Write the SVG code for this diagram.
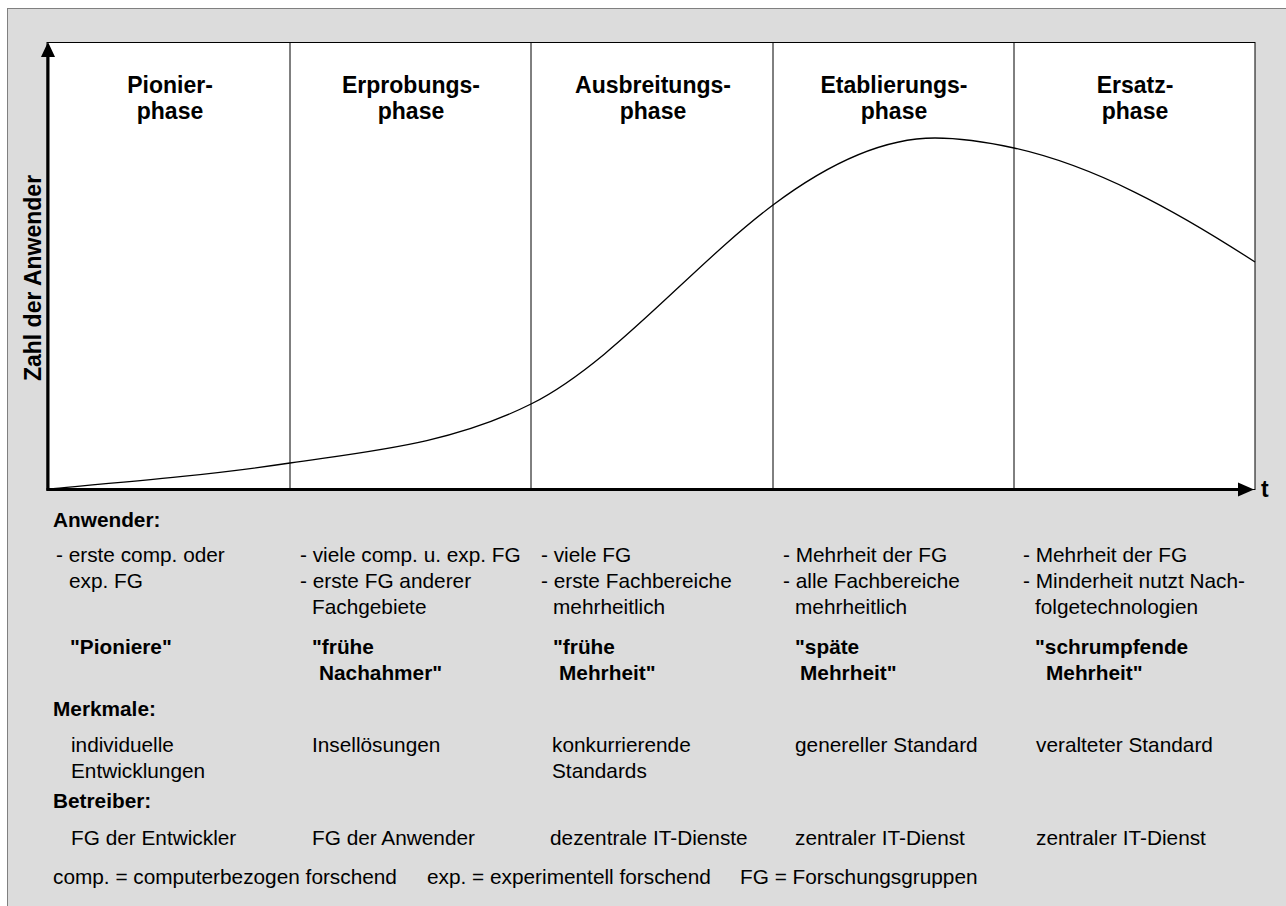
<svg xmlns="http://www.w3.org/2000/svg" width="1286" height="906" viewBox="0 0 1286 906">
<style>
text{font-family:"Liberation Sans",Arial,sans-serif;fill:#000}
.ph{font-size:23px;font-weight:bold;text-anchor:middle}
.b{font-size:20.8px}
.bb{font-size:20.8px;font-weight:bold}
.div{stroke:#000;stroke-width:1;fill:none}
.ax{stroke:#000;stroke-width:3;fill:none}
</style>
<rect id="background" x="7.5" y="8.5" width="1290" height="910" fill="#dcdcdc" stroke="#808080" stroke-width="1"/>
<g id="chart">
<rect x="47" y="42.5" width="1208" height="447" fill="#fff" stroke="#000" stroke-width="1"/>
<line class="div" x1="290" y1="42" x2="290" y2="489"/>
<line class="div" x1="531" y1="42" x2="531" y2="489"/>
<line class="div" x1="773" y1="42" x2="773" y2="489"/>
<line class="div" x1="1014" y1="42" x2="1014" y2="489"/>
<path id="curve" d="M48,489 C128.7,481.7 209.3,475.1 290,463 C370.3,451 450.7,444.2 531,404 C611.7,363.7 692.3,265.5 773,205 C827,164.5 881,138 935,138 C961.3,138 987.7,142.2 1014,148 C1094.3,165.7 1174.7,209.8 1255,262" fill="none" stroke="#000" stroke-width="1.3"/>
</g>
<g id="phases">
<g id="phase1"><text class="ph" x="170" y="93">Pionier-</text><text class="ph" x="170" y="119">phase</text></g>
<g id="phase2"><text class="ph" x="411" y="93">Erprobungs-</text><text class="ph" x="411" y="119">phase</text></g>
<g id="phase3"><text class="ph" x="653" y="93">Ausbreitungs-</text><text class="ph" x="653" y="119">phase</text></g>
<g id="phase4"><text class="ph" x="894" y="93">Etablierungs-</text><text class="ph" x="894" y="119">phase</text></g>
<g id="phase5"><text class="ph" x="1135" y="93">Ersatz-</text><text class="ph" x="1135" y="119">phase</text></g>
</g>
<g id="connectors">
<line class="ax" x1="48" y1="491" x2="48" y2="55"/>
<polygon points="48,42 41,57 55,57" fill="#000"/>
<line class="ax" x1="46.5" y1="489.5" x2="1240" y2="489.5"/>
<polygon points="1254,489.5 1238,482.5 1238,496.5" fill="#000"/>
</g>
<g id="axis-labels">
<text x="41" y="278" font-size="23" font-weight="bold" text-anchor="middle" transform="rotate(-90 41 278)">Zahl der Anwender</text>
<text x="1261" y="497" font-size="23" font-weight="bold">t</text>
</g>
<g id="anwender">
<text class="bb" x="53" y="527">Anwender:</text>
<text class="b" x="56" y="562">- erste comp. oder</text>
<text class="b" x="69" y="588">exp. FG</text>
<text class="bb" x="70" y="654">"Pioniere"</text>
<text class="b" x="300" y="562">- viele comp. u. exp. FG</text>
<text class="b" x="300" y="588">- erste FG anderer</text>
<text class="b" x="312" y="614">Fachgebiete</text>
<text class="bb" x="312" y="654">"frühe</text>
<text class="bb" x="319" y="680">Nachahmer"</text>
<text class="b" x="541" y="562">- viele FG</text>
<text class="b" x="541" y="588">- erste Fachbereiche</text>
<text class="b" x="553" y="614">mehrheitlich</text>
<text class="bb" x="553" y="654">"frühe</text>
<text class="bb" x="559" y="680">Mehrheit"</text>
<text class="b" x="783" y="562">- Mehrheit der FG</text>
<text class="b" x="783" y="588">- alle Fachbereiche</text>
<text class="b" x="795" y="614">mehrheitlich</text>
<text class="bb" x="795" y="654">"späte</text>
<text class="bb" x="800" y="680">Mehrheit"</text>
<text class="b" x="1023" y="562">- Mehrheit der FG</text>
<text class="b" x="1023" y="588">- Minderheit nutzt Nach-</text>
<text class="b" x="1035" y="614">folgetechnologien</text>
<text class="bb" x="1035" y="654">"schrumpfende</text>
<text class="bb" x="1046" y="680">Mehrheit"</text>
</g>
<g id="merkmale">
<text class="bb" x="53" y="716">Merkmale:</text>
<text class="b" x="71" y="752">individuelle</text>
<text class="b" x="71" y="778">Entwicklungen</text>
<text class="b" x="312" y="752">Insellösungen</text>
<text class="b" x="552" y="752">konkurrierende</text>
<text class="b" x="552" y="778">Standards</text>
<text class="b" x="795" y="752">genereller Standard</text>
<text class="b" x="1036" y="752">veralteter Standard</text>
</g>
<g id="betreiber">
<text class="bb" x="53" y="808">Betreiber:</text>
<text class="b" x="71" y="845">FG der Entwickler</text>
<text class="b" x="312" y="845">FG der Anwender</text>
<text class="b" x="550" y="845">dezentrale IT-Dienste</text>
<text class="b" x="795" y="845">zentraler IT-Dienst</text>
<text class="b" x="1036" y="845">zentraler IT-Dienst</text>
</g>
<g id="legend">
<text class="b" x="53" y="884">comp. = computerbezogen forschend</text>
<text class="b" x="427" y="884">exp. = experimentell forschend</text>
<text class="b" x="740" y="884">FG = Forschungsgruppen</text>
</g>
</svg>
